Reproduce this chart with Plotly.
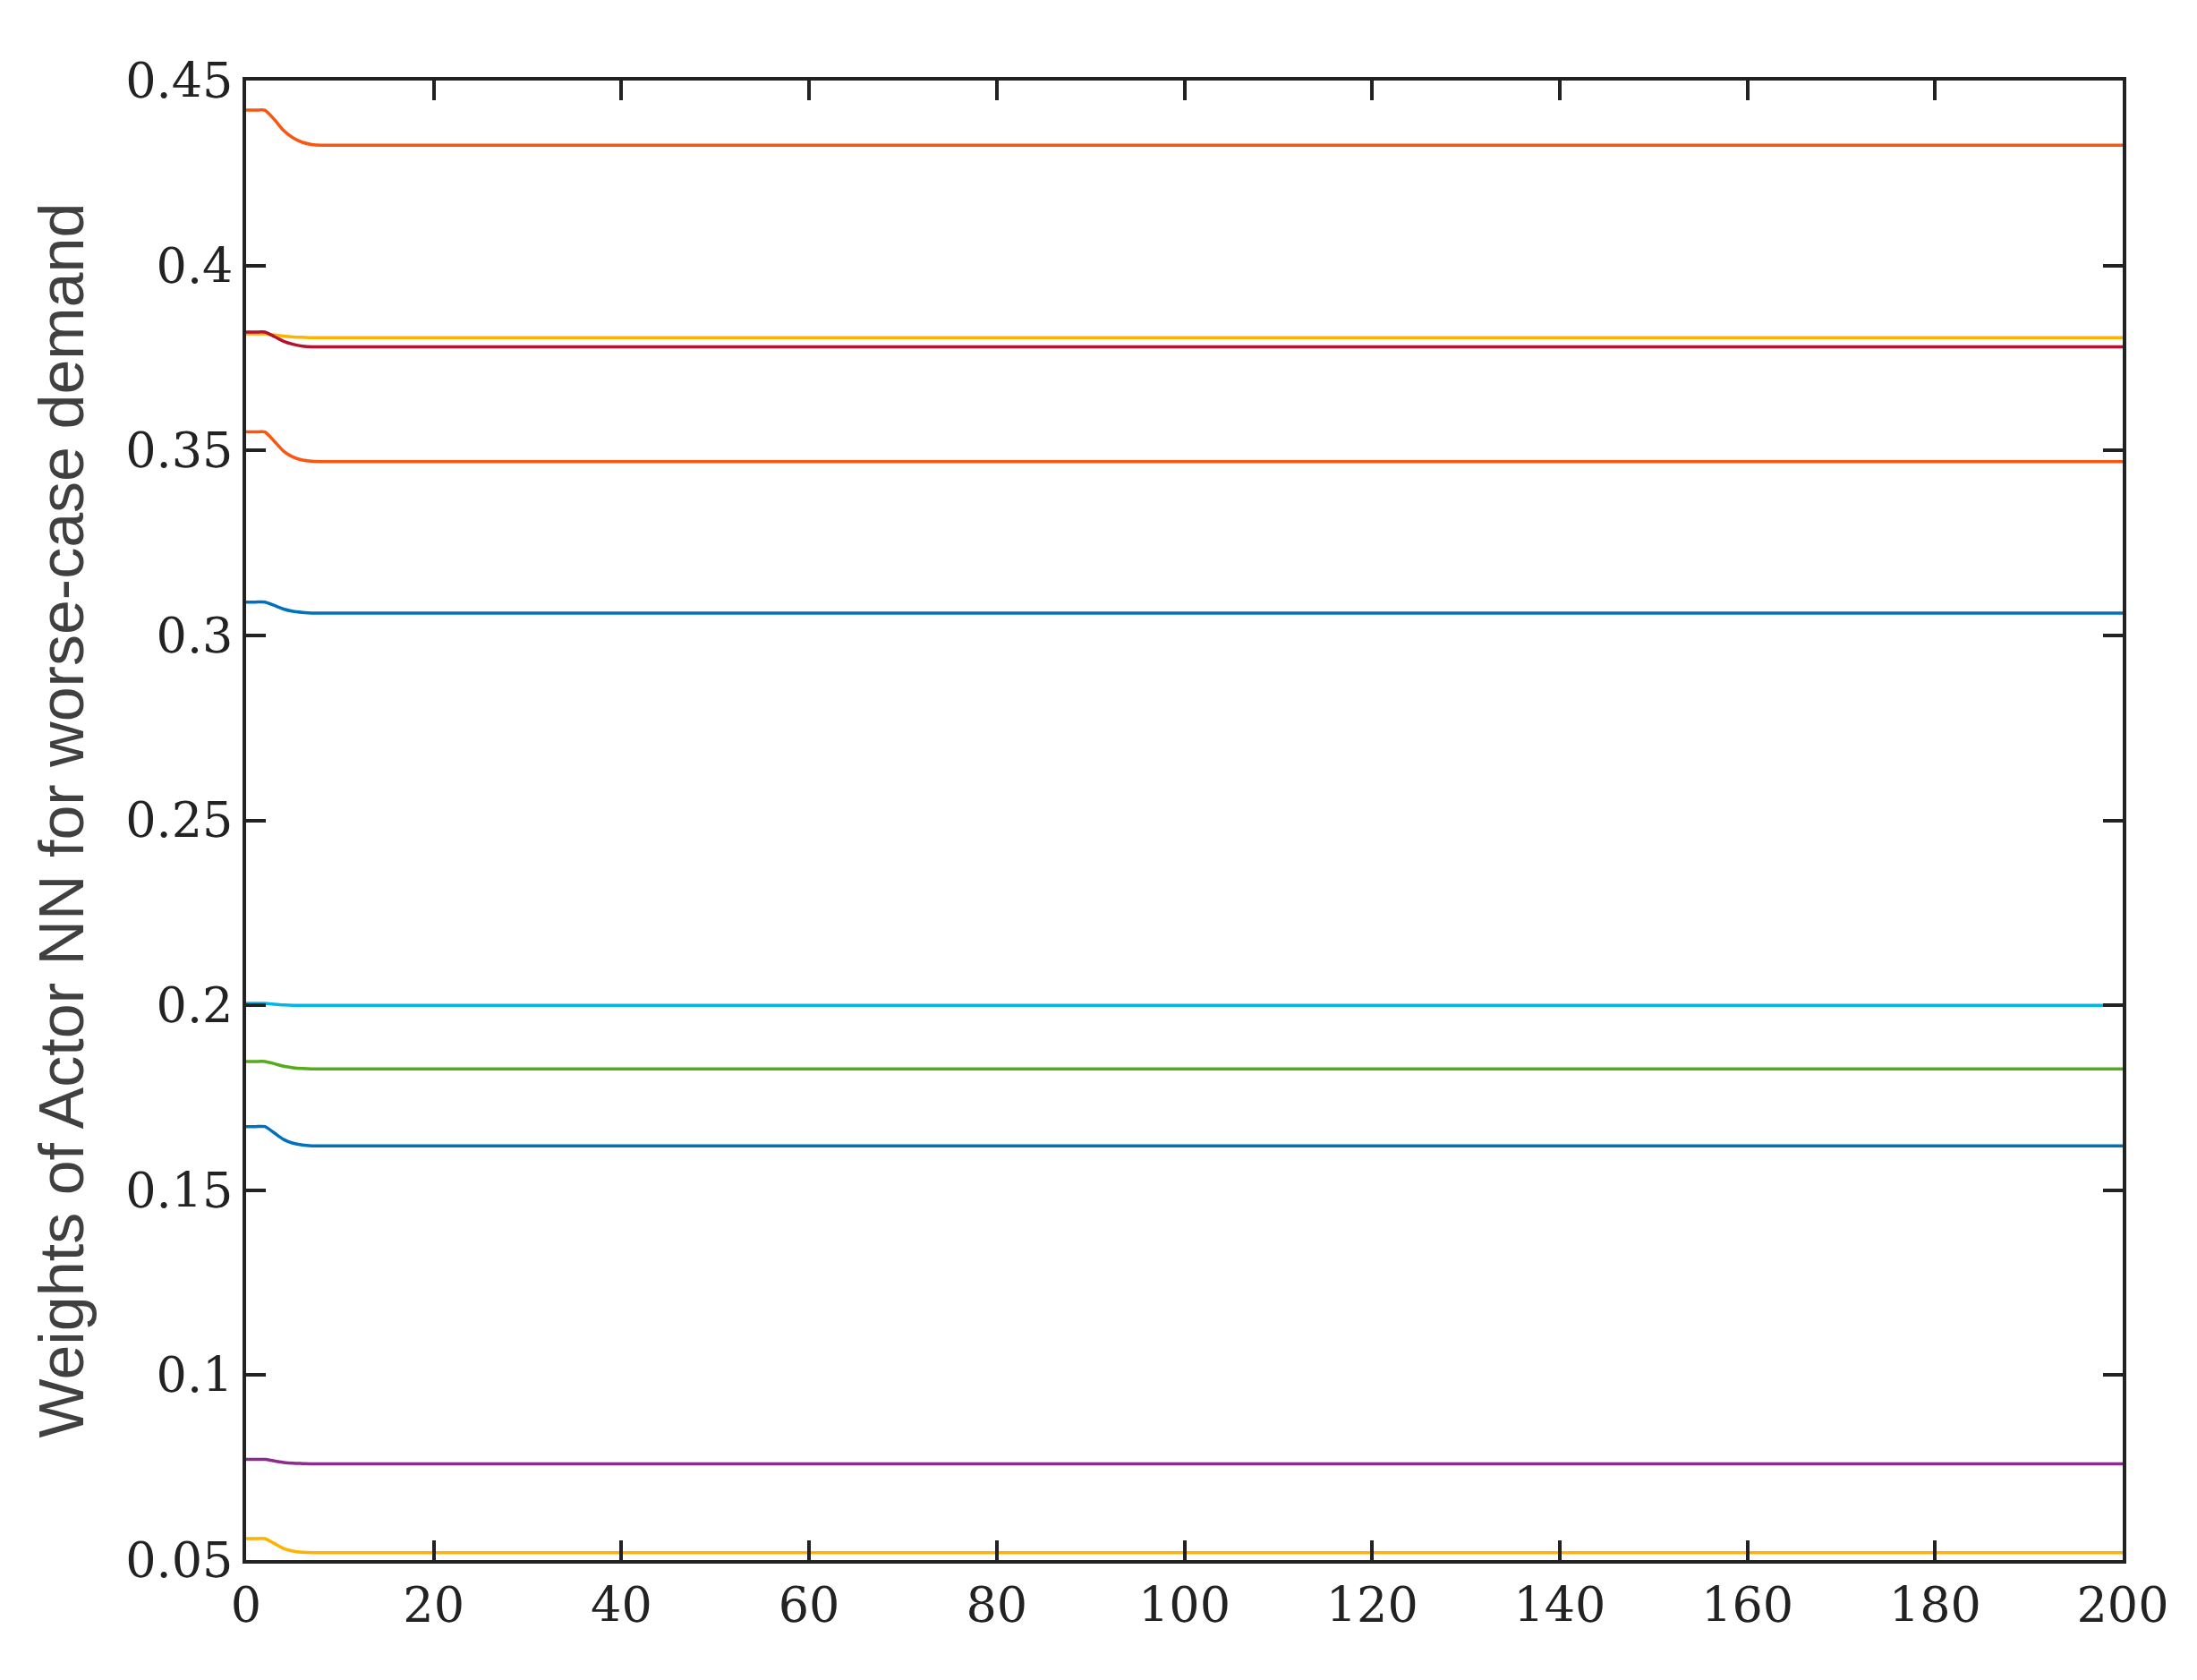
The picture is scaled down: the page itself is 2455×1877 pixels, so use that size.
import plotly.graph_objects as go

x = [0, 1, 2, 3, 4, 5, 6, 7, 8, 200]
s1 = [0.442, 0.442, 0.442, 0.4395, 0.4365, 0.4345, 0.4333, 0.4327, 0.4325, 0.4325]
s2 = [0.3815, 0.3815, 0.3815, 0.3812, 0.3809, 0.3807, 0.3806, 0.3805, 0.3805, 0.3805]
s3 = [0.382, 0.382, 0.382, 0.3808, 0.3795, 0.3787, 0.3782, 0.378, 0.378, 0.378]
s4 = [0.355, 0.355, 0.355, 0.3525, 0.3498, 0.3482, 0.3474, 0.3471, 0.347, 0.347]
s5 = [0.309, 0.309, 0.309, 0.3081, 0.3071, 0.3065, 0.3062, 0.306, 0.306, 0.306]
s6 = [0.2005, 0.2005, 0.2005, 0.2003, 0.2001, 0.2, 0.2, 0.2, 0.2, 0.2]
s7 = [0.1848, 0.1848, 0.1848, 0.1842, 0.1835, 0.1831, 0.1829, 0.1828, 0.1828, 0.1828]
s8 = [0.1672, 0.1672, 0.1672, 0.1655, 0.1637, 0.1627, 0.1622, 0.162, 0.162, 0.162]
s9 = [0.0772, 0.0772, 0.0772, 0.0768, 0.0764, 0.0762, 0.0761, 0.076, 0.076, 0.076]
s10 = [0.0558, 0.0558, 0.0558, 0.0545, 0.0531, 0.0524, 0.0521, 0.052, 0.052, 0.052]

series = [s1, s2, s3, s4, s5, s6, s7, s8, s9, s10]
colors = ["#F9560F", "#FFB300", "#B5122F", "#F9560F", "#0072BD",
          "#00B6E8", "#55AB1D", "#0072BD", "#8C2A8E", "#FFB300"]

fig = go.Figure()
for s, c in zip(series, colors):
    fig.add_trace(go.Scatter(x=x, y=s, mode="lines", line=dict(color=c, width=3.5, shape="spline", smoothing=0.6),
                             showlegend=False))

axis_common = dict(showline=True, linecolor="#222222", linewidth=3.5, mirror="allticks",
                   ticks="inside", ticklen=22, tickwidth=3.5, tickcolor="#222222",
                   showgrid=False, zeroline=False,
                   tickfont=dict(family="DejaVu Serif", size=54, color="#222222"))

fig.update_layout(
    width=2455, height=1877,
    paper_bgcolor="white", plot_bgcolor="white",
    margin=dict(l=267, r=91, t=82, b=142),
    xaxis=dict(range=[0, 200], dtick=20, **axis_common),
    yaxis=dict(range=[0.05, 0.45], dtick=0.05, tickformat="~r",
               title=dict(text="Weights of Actor NN for worse-case demand",
                          font=dict(family="Liberation Sans", size=70, color="#404040"), standoff=25),
               **axis_common),
)
fig.write_html("out.html")
